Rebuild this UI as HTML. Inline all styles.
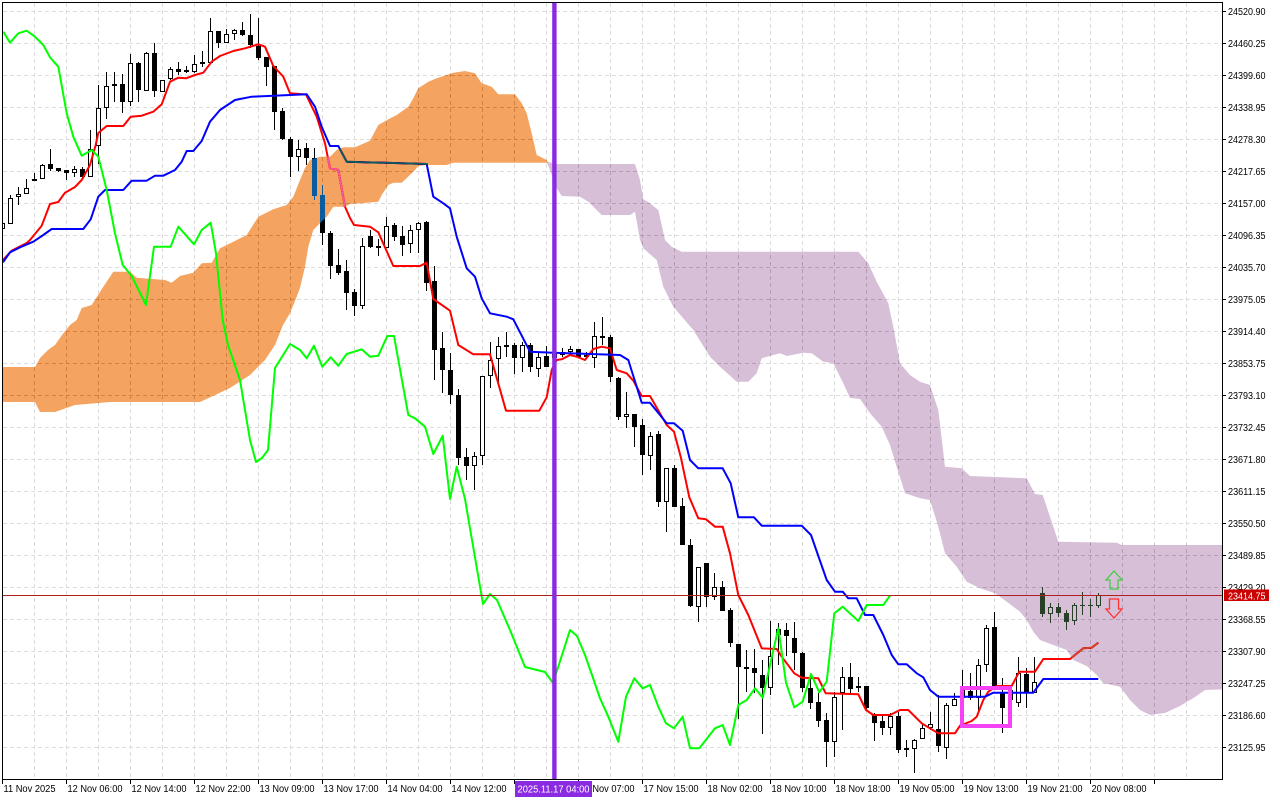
<!DOCTYPE html>
<html><head><meta charset="utf-8"><style>
html,body{margin:0;padding:0;background:#fff;width:1280px;height:800px;overflow:hidden}
svg{display:block}
text{font-family:"Liberation Sans",Arial,sans-serif;font-size:10px;fill:#000}
</style></head><body>
<svg width="1280" height="800" viewBox="0 0 1280 800" xmlns="http://www.w3.org/2000/svg">
<defs><clipPath id="c"><rect x="3" y="3" width="1219" height="776"/></clipPath></defs>
<rect x="0" y="0" width="1280" height="800" fill="#fff"/>
<g clip-path="url(#c)" style="isolation:isolate">
<rect x="0" y="0" width="1280" height="800" fill="#fff"/>
<path stroke="#dcdcdc" stroke-width="1" stroke-dasharray="4 3" fill="none" d="M34.5 3V779M66.5 3V779M98.5 3V779M130.5 3V779M162.5 3V779M194.5 3V779M226.5 3V779M258.5 3V779M290.5 3V779M322.5 3V779M354.5 3V779M386.5 3V779M418.5 3V779M450.5 3V779M482.5 3V779M514.5 3V779M546.5 3V779M578.5 3V779M610.5 3V779M642.5 3V779M674.5 3V779M706.5 3V779M738.5 3V779M770.5 3V779M802.5 3V779M834.5 3V779M866.5 3V779M898.5 3V779M930.5 3V779M962.5 3V779M994.5 3V779M1026.5 3V779M1058.5 3V779M1090.5 3V779M1122.5 3V779M1154.5 3V779M1186.5 3V779M3 11.5H1222M3 43.5H1222M3 75.5H1222M3 107.5H1222M3 139.5H1222M3 171.5H1222M3 203.5H1222M3 235.5H1222M3 267.5H1222M3 299.5H1222M3 331.5H1222M3 363.5H1222M3 395.5H1222M3 427.5H1222M3 459.5H1222M3 491.5H1222M3 523.5H1222M3 555.5H1222M3 587.5H1222M3 619.5H1222M3 651.5H1222M3 683.5H1222M3 715.5H1222M3 747.5H1222"/>
<!-- wicks -->
<path stroke="#000" stroke-width="1" fill="none" d="M2.5 220V231M10.5 195V224M18.5 187V205M26.5 179V194M34.5 173V181M42.5 164V179M50.5 149V171M58.5 168V172M66.5 170V180M74.5 166V177M82.5 167V178M90.5 130V177M98.5 85V164M106.5 72V119M114.5 72V102M122.5 74V113M130.5 54V106M138.5 62V102M146.5 52V91M154.5 43V97M162.5 80V92M170.5 67V80M178.5 62V75M186.5 66V73M194.5 55V73M202.5 51V67M210.5 18V63M218.5 31V48M226.5 29V43M234.5 29V40M242.5 22V36M250.5 14V48M258.5 18V60M266.5 57V86M274.5 66V130M282.5 108V140M290.5 137V177M298.5 140V171M306.5 143V165M314.5 148V200M322.5 185V245M330.5 231V279M338.5 249V275M346.5 260V310M354.5 289V316M362.5 238V309M370.5 230V248M378.5 239V256M386.5 217V248M394.5 223V241M402.5 226V256M410.5 225V253M418.5 222V253M426.5 221V291M434.5 266V380M442.5 332V393M450.5 353V404M458.5 389V465M466.5 448V480M474.5 452V490M482.5 376V465M490.5 342V388M498.5 337V386M506.5 332V357M514.5 343V374M522.5 342V372M530.5 343V372M538.5 353V377M546.5 346V367M554.5 348V362M562.5 348V357M570.5 346V356M578.5 349V358M586.5 352V359M594.5 322V368M602.5 317V345M610.5 335V382M618.5 377V420M626.5 392V428M634.5 414V447M642.5 419V475M650.5 432V470M658.5 431V507M666.5 468V532M674.5 465V507M682.5 498V545M690.5 539V607M698.5 567V622M706.5 563V607M714.5 573V600M722.5 581V611M730.5 608V647M738.5 644V719M746.5 650V692M754.5 649V693M762.5 660V734M770.5 621V695M778.5 623V665M786.5 623V656M794.5 622V670M802.5 652V692M810.5 679V709M818.5 693V727M826.5 713V767M834.5 692V757M842.5 667V730M850.5 663V695M858.5 677V692M866.5 686V710M874.5 713V741M882.5 714V735M890.5 713V735M898.5 712V753M906.5 740V757M914.5 739V773M922.5 723V739M930.5 712V730M938.5 695V752M946.5 703V759M954.5 693V706M962.5 670V705M970.5 673V700M978.5 659V712M986.5 625V672M994.5 612V690M1002.5 678V733M1010.5 685V705M1018.5 657V707M1026.5 668V708M1034.5 657V693M1042.5 587V617M1050.5 603V623M1058.5 603V617M1066.5 610V630M1074.5 603V625M1082.5 592V615M1090.5 599V617M1098.5 593V608"/>
<!-- bearish bodies -->
<g fill="#000">
<rect x="48" y="164" width="5" height="5"/><rect x="56" y="168" width="5" height="3"/><rect x="64" y="170" width="5" height="3"/><rect x="80" y="169" width="5" height="8"/><rect x="112" y="84" width="5" height="2"/><rect x="120" y="84" width="5" height="18"/><rect x="136" y="63" width="5" height="27"/><rect x="152" y="53" width="5" height="38"/><rect x="176" y="69" width="5" height="3"/><rect x="184" y="70" width="5" height="2"/><rect x="216" y="31" width="5" height="12"/><rect x="240" y="30" width="5" height="5"/><rect x="248" y="35" width="5" height="10"/><rect x="256" y="46" width="5" height="12"/><rect x="264" y="57" width="5" height="10"/><rect x="272" y="66" width="5" height="46"/><rect x="280" y="111" width="5" height="28"/><rect x="288" y="139" width="5" height="18"/><rect x="304" y="148" width="5" height="10"/><rect x="312" y="158" width="5" height="38"/><rect x="320" y="195" width="5" height="38"/><rect x="328" y="233" width="5" height="33"/><rect x="336" y="265" width="5" height="8"/><rect x="344" y="271" width="5" height="22"/><rect x="352" y="292" width="5" height="14"/><rect x="368" y="236" width="5" height="11"/><rect x="376" y="246" width="5" height="2"/><rect x="392" y="225" width="5" height="12"/><rect x="400" y="236" width="5" height="9"/><rect x="424" y="222" width="5" height="61"/><rect x="432" y="281" width="5" height="69"/><rect x="440" y="348" width="5" height="22"/><rect x="448" y="370" width="5" height="25"/><rect x="456" y="395" width="5" height="63"/><rect x="464" y="457" width="5" height="9"/><rect x="512" y="345" width="5" height="13"/><rect x="528" y="345" width="5" height="22"/><rect x="544" y="356" width="5" height="11"/><rect x="576" y="349" width="5" height="8"/><rect x="608" y="337" width="5" height="40"/><rect x="616" y="378" width="5" height="39"/><rect x="632" y="414" width="5" height="13"/><rect x="640" y="425" width="5" height="30"/><rect x="656" y="434" width="5" height="68"/><rect x="672" y="468" width="5" height="39"/><rect x="680" y="506" width="5" height="39"/><rect x="688" y="545" width="5" height="61"/><rect x="704" y="563" width="5" height="34"/><rect x="720" y="587" width="5" height="24"/><rect x="728" y="610" width="5" height="33"/><rect x="736" y="644" width="5" height="23"/><rect x="744" y="667" width="5" height="2"/><rect x="752" y="668" width="5" height="5"/><rect x="760" y="675" width="5" height="13"/><rect x="776" y="629" width="5" height="6"/><rect x="784" y="630" width="5" height="6"/><rect x="792" y="638" width="5" height="15"/><rect x="800" y="653" width="5" height="35"/><rect x="808" y="688" width="5" height="15"/><rect x="816" y="702" width="5" height="19"/><rect x="824" y="720" width="5" height="22"/><rect x="848" y="677" width="5" height="12"/><rect x="864" y="686" width="5" height="22"/><rect x="872" y="715" width="5" height="8"/><rect x="880" y="721" width="5" height="7"/><rect x="896" y="716" width="5" height="34"/><rect x="904" y="748" width="5" height="2"/><rect x="936" y="729" width="5" height="17"/><rect x="960" y="688" width="5" height="10"/><rect x="968" y="691" width="5" height="7"/><rect x="992" y="627" width="5" height="61"/><rect x="1000" y="693" width="5" height="15"/><rect x="1024" y="674" width="5" height="18"/><rect x="1040" y="593" width="5" height="21"/><rect x="1056" y="607" width="5" height="6"/><rect x="1064" y="613" width="5" height="9"/><rect x="1080" y="605" width="5" height="1"/><rect x="1088" y="605" width="5" height="1"/>
</g>
<!-- bullish bodies -->
<g fill="#fff" stroke="#000" stroke-width="1">
<rect x="0.5" y="223.5" width="4" height="5"/><rect x="8.5" y="198.5" width="4" height="25"/><rect x="16.5" y="194.5" width="4" height="2"/><rect x="24.5" y="188.5" width="4" height="5"/><rect x="32.5" y="179.5" width="4" height="1"/><rect x="40.5" y="165.5" width="4" height="13"/><rect x="72.5" y="169.5" width="4" height="3"/><rect x="88.5" y="149.5" width="4" height="27"/><rect x="96.5" y="108.5" width="4" height="37"/><rect x="104.5" y="86.5" width="4" height="21"/><rect x="128.5" y="63.5" width="4" height="38"/><rect x="144.5" y="53.5" width="4" height="37"/><rect x="160.5" y="80.5" width="4" height="11"/><rect x="168.5" y="69.5" width="4" height="9"/><rect x="192.5" y="64.5" width="4" height="7"/><rect x="200.5" y="62.5" width="4" height="1"/><rect x="208.5" y="31.5" width="4" height="31"/><rect x="224.5" y="34.5" width="4" height="8"/><rect x="232.5" y="30.5" width="4" height="3"/><rect x="296.5" y="149.5" width="4" height="7"/><rect x="360.5" y="246.5" width="4" height="59"/><rect x="384.5" y="226.5" width="4" height="21"/><rect x="408.5" y="230.5" width="4" height="13"/><rect x="416.5" y="223.5" width="4" height="6"/><rect x="472.5" y="456.5" width="4" height="9"/><rect x="480.5" y="376.5" width="4" height="79"/><rect x="488.5" y="360.5" width="4" height="15"/><rect x="496.5" y="346.5" width="4" height="12"/><rect x="504.5" y="345.5" width="4" height="1"/><rect x="520.5" y="345.5" width="4" height="12"/><rect x="536.5" y="357.5" width="4" height="11"/><rect x="552.5" y="352.5" width="4" height="5"/><rect x="560.5" y="352.5" width="4" height="2"/><rect x="568.5" y="349.5" width="4" height="2"/><rect x="584.5" y="355.5" width="4" height="1"/><rect x="592.5" y="336.5" width="4" height="21"/><rect x="600.5" y="336.5" width="4" height="1"/><rect x="624.5" y="414.5" width="4" height="2"/><rect x="648.5" y="436.5" width="4" height="19"/><rect x="664.5" y="468.5" width="4" height="33"/><rect x="696.5" y="567.5" width="4" height="39"/><rect x="712.5" y="587.5" width="4" height="9"/><rect x="768.5" y="656.5" width="4" height="31"/><rect x="832.5" y="697.5" width="4" height="44"/><rect x="840.5" y="677.5" width="4" height="15"/><rect x="856.5" y="686.5" width="4" height="1"/><rect x="888.5" y="716.5" width="4" height="11"/><rect x="912.5" y="740.5" width="4" height="8"/><rect x="920.5" y="728.5" width="4" height="10"/><rect x="928.5" y="724.5" width="4" height="3"/><rect x="944.5" y="705.5" width="4" height="42"/><rect x="952.5" y="699.5" width="4" height="6"/><rect x="976.5" y="665.5" width="4" height="32"/><rect x="984.5" y="628.5" width="4" height="36"/><rect x="1008.5" y="690.5" width="4" height="9"/><rect x="1016.5" y="673.5" width="4" height="29"/><rect x="1032.5" y="682.5" width="4" height="10"/><rect x="1048.5" y="607.5" width="4" height="6"/><rect x="1072.5" y="605.5" width="4" height="15"/><rect x="1096.5" y="595.5" width="4" height="10"/>
</g>
<!-- tenkan -->
<polyline fill="none" stroke="#ff0000" stroke-width="2" stroke-linejoin="round" points="3,260 11.7,250.7 26.7,243 30,240 41.7,225.7 50,204 58.3,202 65,192.7 75,187 81.7,180 90,165 95.7,145 98.3,133 106.7,126 123.3,126 130.7,116.7 141.7,115.7 153.3,111.7 161.7,104.3 170,81.7 178.3,77.7 186,78.3 195,75 203.3,72.7 211.7,61.7 220,56 233.3,51 245,48.3 258.3,44.3 265,46.7 273.3,66 283.3,76.7 290,93.3 306,94.5 316.7,116.7 325,143.3 330,168.3 338.3,170 345,206.7 350,218 354,225 370,226.7 378.3,232.3 393.3,266 420,266 426.7,262.7 433.3,299 450,310.7 458.3,345 473.3,354.3 490,354.3 506,410.7 539.3,410.7 546.7,397.3 551.7,370 556.7,360 561.7,359.3 570,355 576.7,356.7 585,360 593.3,349 601.7,346.7 610,348.3 616.7,370 626.7,373.3 633.3,380.7 641.7,396 650,396 666.7,425 674,431.7 680.7,456.7 689.3,497.3 698.3,518.3 706,519.3 715,526.7 722.7,526.7 730,553.3 738.3,595 748.3,615 761.7,648.3 776.7,649 781.7,656.7 794.3,673.3 801.7,677.7 818.3,678.3 825.7,693.3 858.3,694.3 866,710 873.3,715 890,715 900,710 908.3,710 921.7,723.3 938.3,733.3 955,733.3 960,725.7 971.7,721 976.7,716.7 983.3,700 988.3,691.7 996.7,686 1011.7,686 1019.3,671.7 1035,671.7 1043.3,659 1070,659 1083.3,648.3 1091.7,647.7 1098.3,642.7"/>
<!-- kijun -->
<polyline fill="none" stroke="#0000ff" stroke-width="2" stroke-linejoin="round" points="3,262.3 10,252.3 20,247.3 33.3,241.7 43.3,235 51.7,229 83.3,229 90.7,219.3 98.3,196.7 105,190 123.3,190 131.7,180.7 146.7,180.7 155,175.7 163.3,175.7 175,170 181.7,161.7 186.7,151 193.3,151 201.7,141 210,121.7 220,110 235,100 251.7,96.7 306.7,94.3 315,106.7 321.7,126.7 330,146 338.3,146 346.7,161.7 426.7,164 433.3,196.7 443.3,203.3 450,208.3 456.7,236.7 466.7,268.3 475,276.7 481.7,298.3 490,313.3 506.7,316.7 513.3,319.3 530,351.7 553.3,352.7 620,355 628.3,360 641.7,402.7 650,402.7 666.7,423.3 674,423.3 682.7,430.7 690,460 698.3,468.3 722.7,468.3 730.7,483.3 738.3,517.3 754,517.3 761.7,525.7 801.7,525.7 811,535 826.7,580 835,591.7 842.7,591.7 848.3,598.3 856.7,598.3 865,615 873.3,615 883.3,635 891.7,655 898.3,664.3 906.7,664.3 916.7,673.3 923.3,677.3 930,690 938.3,696.7 985,696.7 993.3,692.7 1033.3,692.7 1043.3,679 1098.3,679"/>
<!-- clouds (XOR-like) -->
<polygon style="mix-blend-mode:difference" fill="#0b5b9f" points="2,367 35,367 40,358 48,350 55,345 62,335 70,325 76.7,320 81.7,308 91.7,305 103.3,286.7 113.3,271.7 130,271.7 136.7,277.7 165,280 171.7,282.7 180,276 193.3,272.7 201.7,263.3 211.7,262.7 220,248.3 233.3,241.7 246.7,235 258.3,216.7 273.3,209.3 286.7,205 293.3,196.7 300,180 305,168 310,160 320,156.7 330,156.7 336.7,150 343.3,147.3 355,147.3 370,140.7 378.3,125 388.3,119.3 396.7,115 408.3,106.7 413.3,98.3 418.3,88.3 428.3,81.7 436.7,78.3 446.7,75 453.3,72.7 465,71 475,73.3 481.7,83.3 491.7,86.7 498.3,94.3 515,94.3 521.7,103.3 526.7,113.3 531.7,133.3 536.7,155 546.7,160 548,162.7 453.3,162.7 446.7,165 426.7,165 418.3,166 413.3,171.7 401.7,182.7 393.3,182.7 388.3,185 381.7,195 378.3,201.7 361.7,203.3 350,204 345,206.7 333.3,206.7 326.7,216.7 320,223.3 313.3,230 308.3,246.7 305,266.7 300,288 296.7,296.7 290,313.3 283,325 275,345 265,360 250,375 230,388 215,395 200,402 110,402 75,405 55,412 40,412 35,402 2,402"/>
<polygon style="mix-blend-mode:difference" fill="#274027" points="546.7,161.7 556.7,164 635,164 640,180 643.3,199.3 650,203.3 658.3,210 665,240 671.7,246.7 681.7,251.7 858.3,251.7 868.3,263.3 876.7,281.7 888.3,303.3 893.3,326.7 900,363.3 910,375 920,381.7 930,385 938.3,410 945,466.7 961.7,468.3 970,476 1026.7,478.3 1035,494 1042.7,495 1050,516.7 1058.3,541.7 1116.7,542.7 1121.7,545 1230,545 1230,689 1205,690 1195,697 1180,706 1165,713 1150,715 1140,710 1130,700 1120,686.7 1103.3,683.3 1096.7,675 1086.7,666 1073.3,660 1066.7,650 1053.3,645 1040,640 1033.3,631.7 1026.7,620 1020,611.7 1006.7,601.7 995,593.3 980,588.3 966.7,581.7 956.7,566.7 945,553.3 938.3,526.7 930,500 920,498.3 905,493.3 896.7,466.7 890,445 881.7,426.7 870,413.3 860,399 850,398 843.3,383.3 833.3,363.3 823.3,361.7 811.7,353.3 803.3,352.7 786.7,356 780,353.3 773.3,355 761.7,358.3 756.7,373.3 748.3,381.7 736.7,381.7 720,366.7 710,356.7 693.3,330 673.3,306.7 663.3,286.7 656.7,260 643.3,248.3 640,240 635,211.7 630,215 601.7,215 588.3,201.7 580,196.7 561.7,196 556.7,188.3 550,170 546.7,162"/>
<!-- chikou -->
<polyline fill="none" stroke="#00ff00" stroke-width="2" stroke-linejoin="round" points="3.3,31.7 10,42.7 18.3,33.3 26.7,30.7 35,36.7 43.3,45 50,57.3 58.3,66.7 66.7,113.3 73.3,136.7 81.7,155.7 91.7,150 98.3,156.7 106.7,190 115,233.3 122.7,265 131.7,276 146,305 154,246.7 170.7,246.7 178.3,226.7 194,244.3 201.7,230 210.7,222.7 216,253.3 222.7,320 228,345 240,380 250,440 256,462 262,458 268,450 275,368 290,344 300,350 306.7,358.3 314,345.7 322.3,366.7 330.7,357.3 338.3,365.7 346.7,354 361.7,349.3 370,356.7 378.3,355.7 387.3,336 394,336 408.3,415 415,418.3 425,426.7 433.3,454 442.7,435.7 450,499 456.7,466.7 465,499 472,540 483,604 490,594 497,600 510,630 525,667 545,672 553,683 562,655 570,630 577,636 585,655 592,675 600,698.3 608.3,716.7 618.3,741.7 626,696.7 634.3,678.3 642.7,688.3 650,685 658.3,706.7 666,723.3 674,728.3 682.7,716.7 690,748.3 699.3,748.3 715,728.3 722.7,725 730,745 738.3,705 746.7,700 755,688.3 762.7,697.7 778.3,628.3 786,682.7 794.3,707.3 802.7,701.7 811,674 819.3,692.3 826.7,681.7 834.3,613.3 842.7,606.7 858.3,621 866.7,605 883.3,605 890,595.7"/>
<!-- current price line -->
<path d="M3 595.5H1222" stroke="#b02020" stroke-width="1"/>
<!-- vertical marker -->
<rect x="552.2" y="3" width="4.4" height="776" fill="#8a2be2"/>
<!-- magenta box -->
<rect x="962" y="688" width="48" height="38" fill="none" stroke="#f542f5" stroke-width="4"/>
<!-- arrows -->
<polygon points="1114,571 1122,580 1118,580 1118,589 1110,589 1110,580 1106,580" fill="none" stroke="#44cc44" stroke-width="1.3"/>
<polygon points="1109.5,599 1118.5,599 1118.5,609 1122,609 1114,618 1106,609 1109.5,609" fill="none" stroke="#ff3333" stroke-width="1.3"/>
</g>
<!-- frame -->
<path d="M2.5 2.5H1222.5V779.5H2.5Z" fill="none" stroke="#000" stroke-width="1"/>
<!-- price ticks -->
<path stroke="#000" stroke-width="1" d="M1222 11.5H1226M1222 43.5H1226M1222 75.5H1226M1222 107.5H1226M1222 139.5H1226M1222 171.5H1226M1222 203.5H1226M1222 235.5H1226M1222 267.5H1226M1222 299.5H1226M1222 331.5H1226M1222 363.5H1226M1222 395.5H1226M1222 427.5H1226M1222 459.5H1226M1222 491.5H1226M1222 523.5H1226M1222 555.5H1226M1222 587.5H1226M1222 619.5H1226M1222 651.5H1226M1222 683.5H1226M1222 715.5H1226M1222 747.5H1226"/>
<!-- time ticks -->
<path stroke="#000" stroke-width="1" d="M2.5 779V784M66.5 779V784M130.5 779V784M194.5 779V784M258.5 779V784M322.5 779V784M386.5 779V784M450.5 779V784M514.5 779V784M578.5 779V784M642.5 779V784M706.5 779V784M770.5 779V784M834.5 779V784M898.5 779V784M962.5 779V784M1026.5 779V784M1090.5 779V784M1154.5 779V784"/>
<!-- price labels -->
<g>
<text x="1228" y="15" textLength="37.5" lengthAdjust="spacingAndGlyphs">24520.90</text>
<text x="1228" y="47" textLength="37.5" lengthAdjust="spacingAndGlyphs">24460.25</text>
<text x="1228" y="79" textLength="37.5" lengthAdjust="spacingAndGlyphs">24399.60</text>
<text x="1228" y="111" textLength="37.5" lengthAdjust="spacingAndGlyphs">24338.95</text>
<text x="1228" y="143" textLength="37.5" lengthAdjust="spacingAndGlyphs">24278.30</text>
<text x="1228" y="175" textLength="37.5" lengthAdjust="spacingAndGlyphs">24217.65</text>
<text x="1228" y="207" textLength="37.5" lengthAdjust="spacingAndGlyphs">24157.00</text>
<text x="1228" y="239" textLength="37.5" lengthAdjust="spacingAndGlyphs">24096.35</text>
<text x="1228" y="271" textLength="37.5" lengthAdjust="spacingAndGlyphs">24035.70</text>
<text x="1228" y="303" textLength="37.5" lengthAdjust="spacingAndGlyphs">23975.05</text>
<text x="1228" y="335" textLength="37.5" lengthAdjust="spacingAndGlyphs">23914.40</text>
<text x="1228" y="367" textLength="37.5" lengthAdjust="spacingAndGlyphs">23853.75</text>
<text x="1228" y="399" textLength="37.5" lengthAdjust="spacingAndGlyphs">23793.10</text>
<text x="1228" y="431" textLength="37.5" lengthAdjust="spacingAndGlyphs">23732.45</text>
<text x="1228" y="463" textLength="37.5" lengthAdjust="spacingAndGlyphs">23671.80</text>
<text x="1228" y="495" textLength="37.5" lengthAdjust="spacingAndGlyphs">23611.15</text>
<text x="1228" y="527" textLength="37.5" lengthAdjust="spacingAndGlyphs">23550.50</text>
<text x="1228" y="559" textLength="37.5" lengthAdjust="spacingAndGlyphs">23489.85</text>
<text x="1228" y="591" textLength="37.5" lengthAdjust="spacingAndGlyphs">23429.20</text>
<text x="1228" y="623" textLength="37.5" lengthAdjust="spacingAndGlyphs">23368.55</text>
<text x="1228" y="655" textLength="37.5" lengthAdjust="spacingAndGlyphs">23307.90</text>
<text x="1228" y="687" textLength="37.5" lengthAdjust="spacingAndGlyphs">23247.25</text>
<text x="1228" y="719" textLength="37.5" lengthAdjust="spacingAndGlyphs">23186.60</text>
<text x="1228" y="751" textLength="37.5" lengthAdjust="spacingAndGlyphs">23125.95</text>
</g>
<!-- current price tag -->
<rect x="1224" y="589.5" width="45" height="11.5" fill="#cc0000"/>
<text x="1228" y="599.5" textLength="37.5" lengthAdjust="spacingAndGlyphs" style="fill:#fff">23414.75</text>
<!-- time labels -->
<g>
<text x="3.5" y="792" textLength="52" lengthAdjust="spacingAndGlyphs">11 Nov 2025</text>
<text x="67.5" y="792" textLength="55" lengthAdjust="spacingAndGlyphs">12 Nov 06:00</text>
<text x="131.5" y="792" textLength="55" lengthAdjust="spacingAndGlyphs">12 Nov 14:00</text>
<text x="195.5" y="792" textLength="55" lengthAdjust="spacingAndGlyphs">12 Nov 22:00</text>
<text x="259.5" y="792" textLength="55" lengthAdjust="spacingAndGlyphs">13 Nov 09:00</text>
<text x="323.5" y="792" textLength="55" lengthAdjust="spacingAndGlyphs">13 Nov 17:00</text>
<text x="387.5" y="792" textLength="55" lengthAdjust="spacingAndGlyphs">14 Nov 04:00</text>
<text x="451.5" y="792" textLength="55" lengthAdjust="spacingAndGlyphs">14 Nov 12:00</text>
<text x="579.5" y="792" textLength="55" lengthAdjust="spacingAndGlyphs">17 Nov 07:00</text>
<text x="643.5" y="792" textLength="55" lengthAdjust="spacingAndGlyphs">17 Nov 15:00</text>
<text x="707.5" y="792" textLength="55" lengthAdjust="spacingAndGlyphs">18 Nov 02:00</text>
<text x="771.5" y="792" textLength="55" lengthAdjust="spacingAndGlyphs">18 Nov 10:00</text>
<text x="835.5" y="792" textLength="55" lengthAdjust="spacingAndGlyphs">18 Nov 18:00</text>
<text x="899.5" y="792" textLength="55" lengthAdjust="spacingAndGlyphs">19 Nov 05:00</text>
<text x="963.5" y="792" textLength="55" lengthAdjust="spacingAndGlyphs">19 Nov 13:00</text>
<text x="1027.5" y="792" textLength="55" lengthAdjust="spacingAndGlyphs">19 Nov 21:00</text>
<text x="1091.5" y="792" textLength="55" lengthAdjust="spacingAndGlyphs">20 Nov 08:00</text>
</g>
<rect x="515" y="781" width="77" height="16" fill="#8a2be2"/>
<text x="517.5" y="792.5" textLength="72" lengthAdjust="spacingAndGlyphs" style="fill:#fff">2025.11.17 04:00</text>
</svg>
</body></html>
